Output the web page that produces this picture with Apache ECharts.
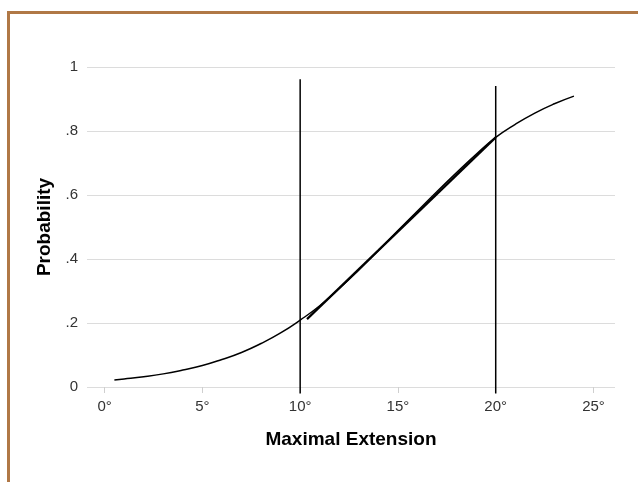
<!DOCTYPE html>
<html>
<head>
<meta charset="utf-8">
<script src="https://cdn.jsdelivr.net/npm/echarts@6/dist/echarts.min.js"></script>
<style>
html,body{margin:0;padding:0;background:#fff;}
#c{width:638px;height:482px;}
</style>
</head>
<body>
<div id="c"></div>
<script>
// Probability curve
const curveX = [0.5, 1, 2, 3, 4, 5, 6, 7, 8, 9, 10, 11, 12, 13, 14, 15, 16, 17, 18, 19, 20, 21, 22, 23, 24];
const curveY = [0.022, 0.025, 0.032, 0.041, 0.053, 0.067, 0.086, 0.108, 0.136, 0.169, 0.209, 0.254, 0.308, 0.366, 0.427, 0.489, 0.550, 0.611, 0.670, 0.727, 0.780, 0.821, 0.856, 0.885, 0.909];
// Straight approximation segment
const segX = [10.35, 20];
const segY = [0.212, 0.780];
// Vertical reference lines
const vlineX = [10, 20];
const vlineTop = [0.962, 0.941];
const vlineBottom = -0.02;
// Ticks
const xTicks = [0, 5, 10, 15, 20, 25];
const yTicks = [0, 0.2, 0.4, 0.6, 0.8, 1];
const xTitle = 'Maximal Extension';
const yTitle = 'Probability';

const chart = echarts.init(document.getElementById('c'), null, {renderer: 'canvas'});
const font = 'Liberation Sans, Arial, Helvetica, sans-serif';

const series = [];
series.push({
  type: 'line', data: curveX.map((x, i) => [x, curveY[i]]), smooth: true, symbol: 'none',
  lineStyle: {color: '#000', width: 1.5}, z: 5, silent: true
});
series.push({
  type: 'line', data: segX.map((x, i) => [x, segY[i]]), symbol: 'none',
  lineStyle: {color: '#000', width: 2.2}, z: 5, silent: true
});
vlineX.forEach((x, i) => {
  series.push({
    type: 'line', data: [[x, vlineBottom], [x, vlineTop[i]]], symbol: 'none', clip: false,
    lineStyle: {color: '#000', width: 1.5}, z: 6, silent: true
  });
});

chart.setOption({
  animation: false,
  backgroundColor: '#fff',
  grid: {left: 87, right: 23, top: 67, bottom: 95, containLabel: false},
  graphic: [{
    type: 'polyline', shape: {points: [[8.5, 482], [8.5, 12.5], [640, 12.5]]},
    style: {stroke: '#b07846', lineWidth: 3, fill: null}, z: 100
  }],
  xAxis: {
    type: 'value', min: -0.9, max: 26.1,
    axisLine: {show: false},
    splitLine: {show: false},
    axisTick: {show: true, customValues: xTicks, length: 6, lineStyle: {color: '#cfcfcf', width: 1}},
    axisLabel: {show: true, customValues: xTicks, formatter: v => v + '°', color: '#333', fontFamily: font, fontSize: 15, margin: 12},
    name: xTitle, nameLocation: 'middle', nameGap: 43,
    nameTextStyle: {color: '#000', fontFamily: font, fontSize: 19, fontWeight: 'bold'}
  },
  yAxis: {
    type: 'value', min: 0, max: 1, interval: 0.2,
    axisLine: {show: false},
    axisTick: {show: false},
    splitLine: {show: true, lineStyle: {color: '#dcdcdc', width: 1.2}},
    axisLabel: {
      color: '#333', fontFamily: font, fontSize: 15, margin: 9,
      formatter: v => {
        const r = Math.round(v * 10) / 10;
        if (r === 0) return '0';
        if (r === 1) return '1';
        return String(r).replace(/^0/, '');
      }
    },
    name: yTitle, nameLocation: 'middle', nameGap: 32, nameRotate: 90,
    nameTextStyle: {color: '#000', fontFamily: font, fontSize: 19, fontWeight: 'bold'}
  },
  series: series
});
</script>
</body>
</html>
